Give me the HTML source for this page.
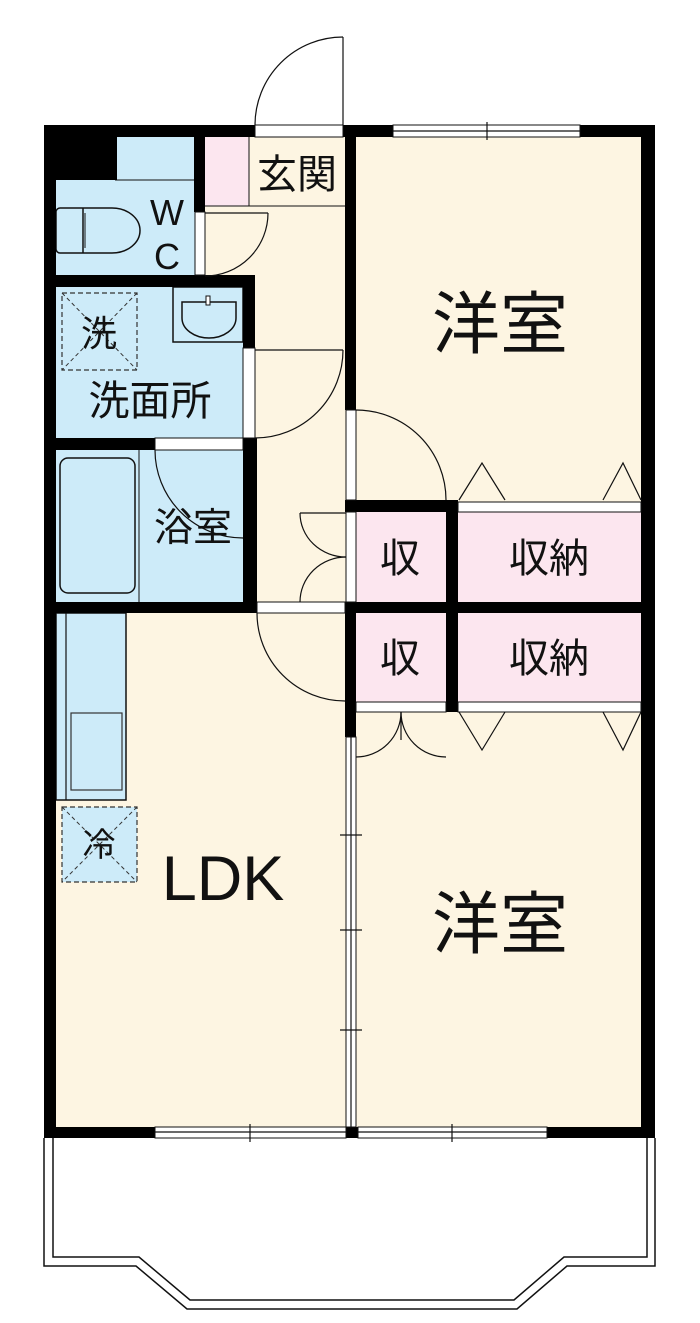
<!DOCTYPE html>
<html><head><meta charset="utf-8"><style>
html,body{margin:0;padding:0;background:#fff}
svg{display:block}
text{font-family:"Liberation Sans","Noto Sans CJK JP",sans-serif;fill:#111}
</style></head><body>
<svg width="700" height="1323" viewBox="0 0 700 1323" xmlns="http://www.w3.org/2000/svg">
<!-- floors -->
<rect x="56" y="137" width="590" height="990" fill="#fdf5e2"/>
<rect x="56" y="137" width="139" height="138" fill="#cdebf9"/>
<rect x="56" y="287" width="188" height="151" fill="#cdebf9"/>
<rect x="56" y="450" width="189" height="152" fill="#cdebf9"/>
<rect x="205" y="137" width="44" height="69" fill="#fce6ef"/>
<rect x="356" y="512" width="90" height="90" fill="#fce6ef"/>
<rect x="458" y="512" width="183" height="90" fill="#fce6ef"/>
<rect x="356" y="613" width="90" height="89" fill="#fce6ef"/>
<rect x="458" y="613" width="183" height="89" fill="#fce6ef"/>
<!-- kitchen -->
<rect x="56" y="613" width="70" height="187" fill="#cdebf9" stroke="#111" stroke-width="1.5"/>
<line x1="66" y1="613" x2="66" y2="800" stroke="#111" stroke-width="1.2"/>
<rect x="71" y="713" width="51" height="77" fill="none" stroke="#333" stroke-width="1.2"/>
<rect x="62" y="807" width="75" height="75" fill="#cdebf9" stroke="#333" stroke-width="1.2" stroke-dasharray="5,3"/>
<path d="M62 807L137 882M137 807L62 882" stroke="#333" stroke-width="1" stroke-dasharray="4,3"/>
<!-- washer -->
<rect x="62" y="293" width="75" height="77" fill="none" stroke="#333" stroke-width="1.2" stroke-dasharray="5,3"/>
<path d="M62 293L137 370M137 293L62 370" stroke="#333" stroke-width="1" stroke-dasharray="4,3"/>
<!-- sink -->
<rect x="173" y="287" width="70" height="55" fill="#cdebf9" stroke="#111" stroke-width="1.5"/>
<path d="M182 302 H236 V318 A27 20 0 0 1 182 318 Z" fill="none" stroke="#111" stroke-width="1.5"/>
<rect x="206" y="296" width="4" height="9" fill="#fff" stroke="#111"/>
<!-- toilet -->
<path d="M60 208 H112 A28 22.5 0 0 1 112 253 H60 A4 4 0 0 1 56 249 V212 A4 4 0 0 1 60 208 Z" fill="none" stroke="#111" stroke-width="1.5"/>
<line x1="83" y1="208" x2="83" y2="253" stroke="#111" stroke-width="1.5"/>
<line x1="85" y1="213" x2="85" y2="248" stroke="#111" stroke-width="1"/>
<line x1="195" y1="180" x2="195" y2="137" stroke="#111" stroke-width="1"/>
<line x1="115" y1="180" x2="195" y2="180" stroke="#111" stroke-width="1"/>
<!-- bathtub -->
<line x1="139" y1="450" x2="139" y2="602" stroke="#111" stroke-width="1"/>
<rect x="60" y="458" width="75" height="135" rx="8" fill="none" stroke="#111" stroke-width="1.5"/>
<!-- genkan line -->
<line x1="205" y1="206" x2="345" y2="206" stroke="#111" stroke-width="1"/>
<line x1="249" y1="137" x2="249" y2="206" stroke="#111" stroke-width="1"/>
<!-- walls -->
<g fill="#000">
<rect x="44" y="125" width="211" height="12"/>
<rect x="343" y="125" width="312" height="12"/>
<rect x="44" y="125" width="12" height="1013"/>
<rect x="641" y="125" width="14" height="1013"/>
<rect x="44" y="125" width="73" height="55"/>
<rect x="194" y="125" width="11" height="87"/>
<rect x="44" y="275" width="211" height="12"/>
<rect x="243" y="275" width="12" height="73"/>
<rect x="44" y="438" width="111" height="12"/>
<rect x="243" y="438" width="14" height="175"/>
<rect x="44" y="602" width="213" height="11"/>
<rect x="345" y="125" width="11" height="285"/>
<rect x="345" y="500" width="113" height="12"/>
<rect x="446" y="500" width="12" height="212"/>
<rect x="345" y="602" width="310" height="11"/>
<rect x="345" y="613" width="11" height="124"/>
<rect x="44" y="1127" width="611" height="11"/>
</g>
<!-- openings strips -->
<g fill="#fff" stroke="#111" stroke-width="1">
<rect x="255" y="125" width="88" height="12"/>
<rect x="195" y="212" width="10" height="63"/>
<rect x="243" y="348" width="12" height="90"/>
<rect x="155" y="438" width="88" height="12"/>
<rect x="257" y="602" width="88" height="11"/>
<rect x="346" y="410" width="10" height="90"/>
<rect x="346" y="512" width="10" height="90"/>
<rect x="458" y="502" width="183" height="10"/>
<rect x="356" y="702" width="90" height="10"/>
<rect x="458" y="702" width="183" height="10"/>
<rect x="393" y="125" width="187" height="12"/>
<rect x="346" y="737" width="10" height="390"/>
<rect x="155" y="1127" width="191" height="11"/>
<rect x="358" y="1127" width="189" height="11"/>
</g>
<g stroke="#111" stroke-width="1.2" fill="none">
<line x1="393" y1="131" x2="580" y2="131"/><line x1="487" y1="122" x2="487" y2="140"/>
<line x1="155" y1="1132" x2="346" y2="1132"/><line x1="250" y1="1124" x2="250" y2="1142"/>
<line x1="358" y1="1132" x2="547" y2="1132"/><line x1="452" y1="1124" x2="452" y2="1142"/>
<line x1="351" y1="737" x2="351" y2="1127"/>
<line x1="340" y1="835" x2="362" y2="835"/><line x1="340" y1="930" x2="362" y2="930"/><line x1="340" y1="1030" x2="362" y2="1030"/>
<!-- doors -->
<line x1="343" y1="125" x2="343" y2="37"/><path d="M255 125 A88 88 0 0 1 343 37"/>
<line x1="205" y1="213" x2="268" y2="213"/><path d="M268 213 A63 63 0 0 1 205 276"/>
<line x1="255" y1="350" x2="343" y2="350"/><path d="M343 350 A88 88 0 0 1 255 438"/>
<path d="M155 450 A88 88 0 0 0 243 538"/>
<path d="M257 613 A88 88 0 0 0 345 701"/>
<path d="M356 410 A90 90 0 0 1 446 500"/>
<line x1="300" y1="513" x2="346" y2="513"/><path d="M300 513 A46 44 0 0 0 346 557"/><path d="M346 557 A46 45 0 0 0 300 602"/>
<line x1="401" y1="712" x2="401" y2="740"/><path d="M356 757 A45 45 0 0 0 401 712"/><path d="M401 712 A45 45 0 0 0 446 757"/>
<path d="M459 500 L482 463 L505 500"/><path d="M603 500 L623 463 L641 500"/>
<path d="M459 712 L482 750 L505 712"/><path d="M603 712 L623 750 L641 712"/>
<!-- balcony -->
<path d="M44 1138 V1266 H136 L187 1309 H517 L567 1266 H655 V1138" stroke-width="1.5"/>
<path d="M53 1138 V1257 H139 L190 1300 H514 L564 1257 H647 V1138" stroke-width="1.5"/>
</g>
<!-- labels -->
<text x="297" y="188" font-size="40" text-anchor="middle">玄関</text>
<text x="167" y="225" font-size="36" text-anchor="middle">W</text>
<text x="167" y="269" font-size="36" text-anchor="middle">C</text>
<text x="99" y="346" font-size="36" text-anchor="middle">洗</text>
<text x="150" y="415" font-size="41" text-anchor="middle">洗面所</text>
<text x="193" y="541" font-size="39" text-anchor="middle">浴室</text>
<text x="500" y="348" font-size="68" text-anchor="middle">洋室</text>
<text x="500" y="948" font-size="68" text-anchor="middle">洋室</text>
<text x="223" y="900" font-size="63" text-anchor="middle">LDK</text>
<text x="400" y="572" font-size="40" text-anchor="middle">収</text>
<text x="549" y="572" font-size="40" text-anchor="middle">収納</text>
<text x="400" y="672" font-size="40" text-anchor="middle">収</text>
<text x="549" y="672" font-size="40" text-anchor="middle">収納</text>
<text x="99" y="856" font-size="33" text-anchor="middle">冷</text>
</svg>
</body></html>
